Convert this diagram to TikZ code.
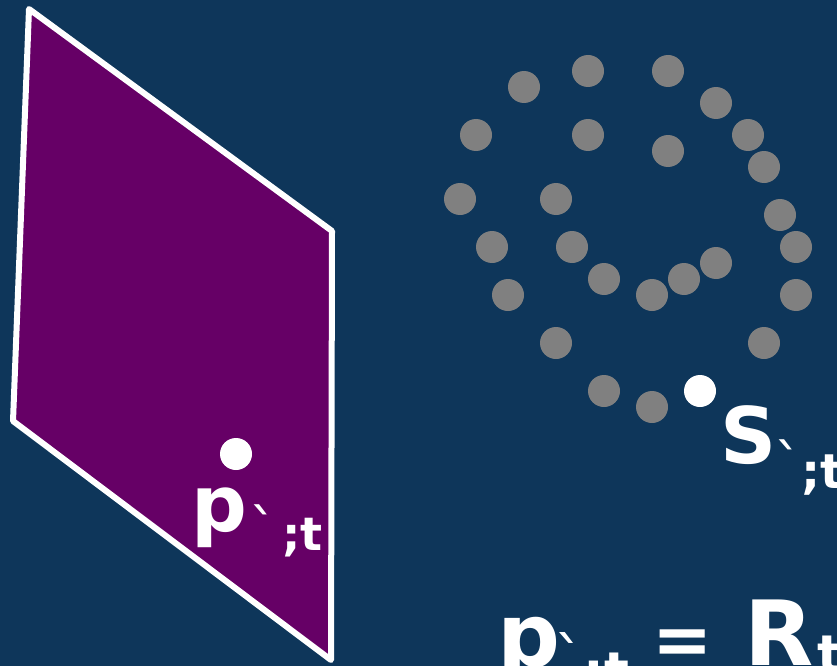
\documentclass[tikz,border=0pt]{standalone}
\usepackage{fontspec}
\newfontfamily\lblfont{DejaVu Sans Bold}
\newfontfamily\accfont{DejaVu Sans}
\definecolor{bgblue}{RGB}{14,54,90}
\definecolor{plum}{RGB}{102,0,102}
\definecolor{dotgray}{RGB}{128,128,128}
\newcommand\setfs[1]{\fontsize{#1}{#1}\selectfont}
\begin{document}
\begin{tikzpicture}[x=1pt,y=-1pt,
  gdot/.style={circle,fill=dotgray,minimum size=32pt,inner sep=0pt},
  wdot/.style={circle,fill=white,minimum size=32pt,inner sep=0pt},
  lbl/.style={text=white,inner sep=0pt,anchor=base west,font=\lblfont},
  acc/.style={text=white,inner sep=0pt,anchor=base west,font=\accfont},
  plane/.style={draw=white,line width=6pt,line join=round,fill=plum}]
\fill[bgblue] (0,0) rectangle (837,666);
\useasboundingbox (0,0) rectangle (837,666);
\draw[plane] (29,9) -- (332,231) -- (331,660) -- (13,421) -- cycle;
\foreach \x/\y [count=\i] in {588/71,668/71,524/87,716/103,476/135,588/135,748/135,668/151,764/167,460/199,556/199,780/215,492/247,572/247,796/247,716/263,604/279,684/279,508/295,652/295,796/295,556/343,764/343,604/391,652/407}
  \node[gdot] (g\i) at (\x,\y) {};
\node[wdot] (wS) at (700,391) {};
\node[wdot] (wp) at (236,454) {};
% p label
\node[lbl] (pA) at (191,531) {\setfs{78}p};
\node[acc] (pAg) at (249,549) {\setfs{56}\char96};
\node[lbl] (pAs) at (282,550) {\setfs{46};t};
% S label
\node[lbl] (sA) at (720,463) {\setfs{78}S};
\node[acc] (sAg) at (774,484) {\setfs{56}\char96};
\node[lbl] (sAs) at (801,488) {\setfs{48};t};
% bottom formula
\node[lbl] (pB) at (497,666) {\setfs{88}p};
\node[acc] (pBg) at (554,680) {\setfs{60}\char96};
\node[lbl] (pBs) at (583,689) {\setfs{52};t};
\node[lbl] (eq) at (652,664) {\setfs{72}=};
\node[lbl] (rB) at (744,665) {\setfs{90}R};
\node[lbl] (rBs) at (817,672) {\setfs{52}t};
\end{tikzpicture}
\end{document}
